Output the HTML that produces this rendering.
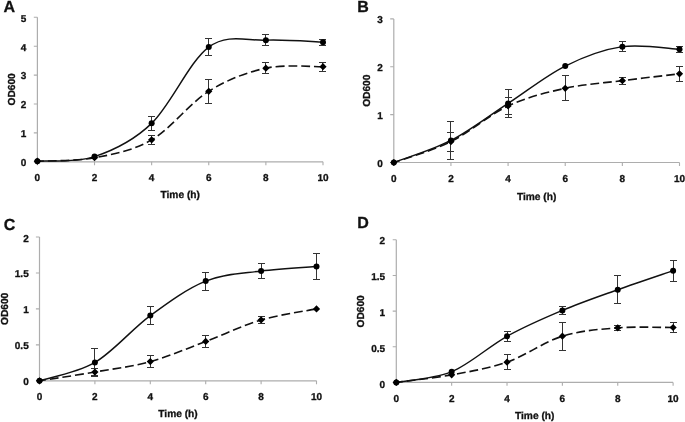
<!DOCTYPE html>
<html><head><meta charset="utf-8"><title>Growth curves</title>
<style>
html,body{margin:0;padding:0;background:#fff;}
body{width:685px;height:422px;overflow:hidden;will-change:transform;}
svg{display:block;}
text{text-rendering:geometricPrecision;-webkit-font-smoothing:antialiased;font-family:"Liberation Sans", sans-serif;font-weight:bold;fill:#111;stroke:#111;stroke-width:0.3px;}
.pl{font-size:16px;}
.tl{font-size:10px;}
.at{font-size:10.2px;}
.ax{fill:none;stroke:#adadad;stroke-width:1.2;}
.tk{fill:none;stroke:#adadad;stroke-width:1.1;}
.eb{fill:none;stroke:#333;stroke-width:1;}
.sl{fill:none;stroke:#111;stroke-width:1.45;}
.ds{fill:none;stroke:#111;stroke-width:1.6;stroke-dasharray:8.8 3.9;stroke-dashoffset:2.2;}
.mk{fill:#000;stroke:none;}
</style></head>
<body>
<svg width="685" height="422" viewBox="0 0 685 422">
<rect width="685" height="422" fill="#fff"/>
<text x="3.6" y="12" class="pl">A</text>
<path class="ax" d="M37.4,17.3 V161.8 H323"/>
<text class="tl" text-anchor="end" transform="translate(26.2,166.3) scale(1.001,1.001)">0</text>
<text class="tl" text-anchor="end" transform="translate(26.2,137.36) scale(1.001,1.001)">1</text>
<text class="tl" text-anchor="end" transform="translate(26.2,108.42) scale(1.001,1.001)">2</text>
<text class="tl" text-anchor="end" transform="translate(26.2,79.48) scale(1.001,1.001)">3</text>
<text class="tl" text-anchor="end" transform="translate(26.2,50.54) scale(1.001,1.001)">4</text>
<text class="tl" text-anchor="end" transform="translate(26.2,21.6) scale(1.001,1.001)">5</text>
<text class="tl" text-anchor="middle" transform="translate(37.4,181.1) scale(1.001,1.001)">0</text>
<text class="tl" text-anchor="middle" transform="translate(94.52,181.1) scale(1.001,1.001)">2</text>
<text class="tl" text-anchor="middle" transform="translate(151.64,181.1) scale(1.001,1.001)">4</text>
<text class="tl" text-anchor="middle" transform="translate(208.76,181.1) scale(1.001,1.001)">6</text>
<text class="tl" text-anchor="middle" transform="translate(265.88,181.1) scale(1.001,1.001)">8</text>
<text class="tl" text-anchor="middle" transform="translate(323,181.1) scale(1.001,1.001)">10</text>
<path class="tk" d="M33.8,161.8 H37.4 M33.8,132.9 H37.4 M33.8,104 H37.4 M33.8,75.1 H37.4 M33.8,46.2 H37.4 M33.8,17.3 H37.4 M37.4,161.8 V165.2 M94.52,161.8 V165.2 M151.64,161.8 V165.2 M208.76,161.8 V165.2 M265.88,161.8 V165.2 M323,161.8 V165.2"/>
<text x="180.2" y="198.2" class="at" text-anchor="middle">Time (h)</text>
<text class="at" text-anchor="middle" transform="translate(14.5,89.4) rotate(-90)">OD600</text>
<path class="eb" d="M151.5,116.5 V130.5 M148,116.5 h7 M148,130.5 h7 M208.5,38.5 V55.5 M205,38.5 h7 M205,55.5 h7 M265.5,34.5 V45.5 M262,34.5 h7 M262,45.5 h7 M322.5,39.5 V45.5 M319,39.5 h7 M319,45.5 h7 M151.5,135.5 V144.5 M148,135.5 h7 M148,144.5 h7 M208.5,79.5 V103.5 M205,79.5 h7 M205,103.5 h7 M265.5,62.5 V73.5 M262,62.5 h7 M262,73.5 h7 M322.5,62.5 V71.5 M319,62.5 h7 M319,71.5 h7"/>
<path class="ds" d="M37.4,161.22 C46.92,160.64 75.48,161.32 94.52,157.75 C113.56,154.19 132.6,150.91 151.64,139.84 C170.68,128.76 189.72,103.23 208.76,91.28 C227.8,79.34 246.84,72.26 265.88,68.16 C284.92,64.07 313.48,66.96 323,66.72"/>
<path class="sl" d="M37.4,161.22 C46.92,160.45 75.48,162.91 94.52,156.6 C113.56,150.29 132.6,141.62 151.64,123.36 C170.68,105.11 189.72,60.94 208.76,47.07 C227.8,33.2 246.84,40.95 265.88,40.13 C284.92,39.31 313.48,41.82 323,42.15"/>
<path class="mk" d="M37.4,157.62 l3.6,3.6 l-3.6,3.6 l-3.6,-3.6z M94.52,154.15 l3.6,3.6 l-3.6,3.6 l-3.6,-3.6z M151.64,136.24 l3.6,3.6 l-3.6,3.6 l-3.6,-3.6z M208.76,87.68 l3.6,3.6 l-3.6,3.6 l-3.6,-3.6z M265.88,64.56 l3.6,3.6 l-3.6,3.6 l-3.6,-3.6z M323,63.12 l3.6,3.6 l-3.6,3.6 l-3.6,-3.6z"/>
<circle cx="37.4" cy="161.22" r="3.0" class="mk"/>
<circle cx="94.52" cy="156.6" r="3.0" class="mk"/>
<circle cx="151.64" cy="123.36" r="3.0" class="mk"/>
<circle cx="208.76" cy="47.07" r="3.0" class="mk"/>
<circle cx="265.88" cy="40.13" r="3.0" class="mk"/>
<circle cx="323" cy="42.15" r="3.0" class="mk"/>
<text x="357.2" y="12.2" class="pl">B</text>
<path class="ax" d="M393.8,18.89 V162.5 H679.5"/>
<text class="tl" text-anchor="end" transform="translate(382.8,167.4) scale(1.001,1.001)">0</text>
<text class="tl" text-anchor="end" transform="translate(382.8,119.37) scale(1.001,1.001)">1</text>
<text class="tl" text-anchor="end" transform="translate(382.8,71.34) scale(1.001,1.001)">2</text>
<text class="tl" text-anchor="end" transform="translate(382.8,23.31) scale(1.001,1.001)">3</text>
<text class="tl" text-anchor="middle" transform="translate(393.8,181.8) scale(1.001,1.001)">0</text>
<text class="tl" text-anchor="middle" transform="translate(450.94,181.8) scale(1.001,1.001)">2</text>
<text class="tl" text-anchor="middle" transform="translate(508.08,181.8) scale(1.001,1.001)">4</text>
<text class="tl" text-anchor="middle" transform="translate(565.22,181.8) scale(1.001,1.001)">6</text>
<text class="tl" text-anchor="middle" transform="translate(622.36,181.8) scale(1.001,1.001)">8</text>
<text class="tl" text-anchor="middle" transform="translate(679.5,181.8) scale(1.001,1.001)">10</text>
<path class="tk" d="M390.2,162.5 H393.8 M390.2,114.63 H393.8 M390.2,66.76 H393.8 M390.2,18.89 H393.8 M393.8,162.5 V165.9 M450.94,162.5 V165.9 M508.08,162.5 V165.9 M565.22,162.5 V165.9 M622.36,162.5 V165.9 M679.5,162.5 V165.9"/>
<text x="536.65" y="199.5" class="at" text-anchor="middle">Time (h)</text>
<text class="at" text-anchor="middle" transform="translate(370.1,90.7) rotate(-90)">OD600</text>
<path class="eb" d="M450.5,121.5 V159.5 M447,121.5 h7 M447,159.5 h7 M508.5,89.5 V117.5 M505,89.5 h7 M505,117.5 h7 M622.5,41.5 V51.5 M619,41.5 h7 M619,51.5 h7 M679.5,46.5 V52.5 M676,46.5 h7 M676,52.5 h7 M450.5,132.5 V151.5 M447,132.5 h7 M447,151.5 h7 M508.5,97.5 V114.5 M505,97.5 h7 M505,114.5 h7 M565.5,75.5 V100.5 M562,75.5 h7 M562,100.5 h7 M622.5,77.5 V84.5 M619,77.5 h7 M619,84.5 h7 M679.5,66.5 V81.5 M676,66.5 h7 M676,81.5 h7"/>
<path class="ds" d="M393.8,162.5 C403.32,159.01 431.89,151 450.94,141.58 C469.99,132.17 489.03,114.89 508.08,106.01 C527.13,97.13 546.17,92.53 565.22,88.3 C584.27,84.07 603.31,83.06 622.36,80.64 C641.41,78.22 669.98,74.94 679.5,73.8"/>
<path class="sl" d="M393.8,162.5 C403.32,158.83 431.89,150.33 450.94,140.48 C469.99,130.63 489.03,115.79 508.08,103.38 C527.13,90.97 546.17,75.5 565.22,66.04 C584.27,56.59 603.31,49.45 622.36,46.65 C641.41,43.86 669.98,48.85 679.5,49.29"/>
<path class="mk" d="M393.8,158.9 l3.6,3.6 l-3.6,3.6 l-3.6,-3.6z M450.94,137.98 l3.6,3.6 l-3.6,3.6 l-3.6,-3.6z M508.08,102.41 l3.6,3.6 l-3.6,3.6 l-3.6,-3.6z M565.22,84.7 l3.6,3.6 l-3.6,3.6 l-3.6,-3.6z M622.36,77.04 l3.6,3.6 l-3.6,3.6 l-3.6,-3.6z M679.5,70.2 l3.6,3.6 l-3.6,3.6 l-3.6,-3.6z"/>
<circle cx="393.8" cy="162.5" r="3.0" class="mk"/>
<circle cx="450.94" cy="140.48" r="3.0" class="mk"/>
<circle cx="508.08" cy="103.38" r="3.0" class="mk"/>
<circle cx="565.22" cy="66.04" r="3.0" class="mk"/>
<circle cx="622.36" cy="46.65" r="3.0" class="mk"/>
<circle cx="679.5" cy="49.29" r="3.0" class="mk"/>
<text x="3.8" y="229.8" class="pl">C</text>
<path class="ax" d="M39.5,237 V380.8 H316.5"/>
<text class="tl" text-anchor="end" transform="translate(28.7,385.3) scale(1.001,1.001)">0</text>
<text class="tl" text-anchor="end" transform="translate(28.7,349.35) scale(1.001,1.001)">0.5</text>
<text class="tl" text-anchor="end" transform="translate(28.7,313.4) scale(1.001,1.001)">1</text>
<text class="tl" text-anchor="end" transform="translate(28.7,277.45) scale(1.001,1.001)">1.5</text>
<text class="tl" text-anchor="end" transform="translate(28.7,241.5) scale(1.001,1.001)">2</text>
<text class="tl" text-anchor="middle" transform="translate(39.5,400.1) scale(1.001,1.001)">0</text>
<text class="tl" text-anchor="middle" transform="translate(94.9,400.1) scale(1.001,1.001)">2</text>
<text class="tl" text-anchor="middle" transform="translate(150.3,400.1) scale(1.001,1.001)">4</text>
<text class="tl" text-anchor="middle" transform="translate(205.7,400.1) scale(1.001,1.001)">6</text>
<text class="tl" text-anchor="middle" transform="translate(261.1,400.1) scale(1.001,1.001)">8</text>
<text class="tl" text-anchor="middle" transform="translate(316.5,400.1) scale(1.001,1.001)">10</text>
<path class="tk" d="M35.9,380.8 H39.5 M35.9,344.85 H39.5 M35.9,308.9 H39.5 M35.9,272.95 H39.5 M35.9,237 H39.5 M39.5,380.8 V384.2 M94.9,380.8 V384.2 M150.3,380.8 V384.2 M205.7,380.8 V384.2 M261.1,380.8 V384.2 M316.5,380.8 V384.2"/>
<text x="178" y="417.2" class="at" text-anchor="middle">Time (h)</text>
<text class="at" text-anchor="middle" transform="translate(7.5,308.9) rotate(-90)">OD600</text>
<path class="eb" d="M94.5,348.5 V376.5 M91,348.5 h7 M91,376.5 h7 M150.5,306.5 V324.5 M147,306.5 h7 M147,324.5 h7 M205.5,272.5 V290.5 M202,272.5 h7 M202,290.5 h7 M261.5,263.5 V278.5 M258,263.5 h7 M258,278.5 h7 M316.5,253.5 V279.5 M313,253.5 h7 M313,279.5 h7 M94.5,368.5 V375.5 M91,368.5 h7 M91,375.5 h7 M150.5,355.5 V367.5 M147,355.5 h7 M147,367.5 h7 M205.5,335.5 V347.5 M202,335.5 h7 M202,347.5 h7 M261.5,316.5 V323.5 M258,316.5 h7 M258,323.5 h7"/>
<path class="ds" d="M39.5,380.8 C48.73,379.34 76.43,375.23 94.9,372.03 C113.37,368.83 131.83,366.7 150.3,361.6 C168.77,356.51 187.23,348.41 205.7,341.47 C224.17,334.53 242.63,325.4 261.1,319.97 C279.57,314.54 307.27,310.75 316.5,308.9"/>
<path class="sl" d="M39.5,380.8 C48.73,377.74 76.43,373.33 94.9,362.47 C113.37,351.6 131.83,329.15 150.3,315.59 C168.77,302.02 187.23,288.5 205.7,281.07 C224.17,273.65 242.63,273.44 261.1,271.01 C279.57,268.58 307.27,267.23 316.5,266.48"/>
<path class="mk" d="M39.5,377.2 l3.6,3.6 l-3.6,3.6 l-3.6,-3.6z M94.9,368.43 l3.6,3.6 l-3.6,3.6 l-3.6,-3.6z M150.3,358 l3.6,3.6 l-3.6,3.6 l-3.6,-3.6z M205.7,337.87 l3.6,3.6 l-3.6,3.6 l-3.6,-3.6z M261.1,316.37 l3.6,3.6 l-3.6,3.6 l-3.6,-3.6z M316.5,305.3 l3.6,3.6 l-3.6,3.6 l-3.6,-3.6z"/>
<circle cx="39.5" cy="380.8" r="3.0" class="mk"/>
<circle cx="94.9" cy="362.47" r="3.0" class="mk"/>
<circle cx="150.3" cy="315.59" r="3.0" class="mk"/>
<circle cx="205.7" cy="281.07" r="3.0" class="mk"/>
<circle cx="261.1" cy="271.01" r="3.0" class="mk"/>
<circle cx="316.5" cy="266.48" r="3.0" class="mk"/>
<text x="357.2" y="227.9" class="pl">D</text>
<path class="ax" d="M396.3,239.8 V382.4 H673.1"/>
<text class="tl" text-anchor="end" transform="translate(385.1,387.8) scale(1.001,1.001)">0</text>
<text class="tl" text-anchor="end" transform="translate(385.1,351.77) scale(1.001,1.001)">0.5</text>
<text class="tl" text-anchor="end" transform="translate(385.1,315.75) scale(1.001,1.001)">1</text>
<text class="tl" text-anchor="end" transform="translate(385.1,279.72) scale(1.001,1.001)">1.5</text>
<text class="tl" text-anchor="end" transform="translate(385.1,243.7) scale(1.001,1.001)">2</text>
<text class="tl" text-anchor="middle" transform="translate(396.3,401.7) scale(1.001,1.001)">0</text>
<text class="tl" text-anchor="middle" transform="translate(451.66,401.7) scale(1.001,1.001)">2</text>
<text class="tl" text-anchor="middle" transform="translate(507.02,401.7) scale(1.001,1.001)">4</text>
<text class="tl" text-anchor="middle" transform="translate(562.38,401.7) scale(1.001,1.001)">6</text>
<text class="tl" text-anchor="middle" transform="translate(617.74,401.7) scale(1.001,1.001)">8</text>
<text class="tl" text-anchor="middle" transform="translate(673.1,401.7) scale(1.001,1.001)">10</text>
<path class="tk" d="M392.7,382.4 H396.3 M392.7,346.75 H396.3 M392.7,311.1 H396.3 M392.7,275.45 H396.3 M392.7,239.8 H396.3 M396.3,382.4 V385.8 M451.66,382.4 V385.8 M507.02,382.4 V385.8 M562.38,382.4 V385.8 M617.74,382.4 V385.8 M673.1,382.4 V385.8"/>
<text x="534.7" y="419" class="at" text-anchor="middle">Time (h)</text>
<text class="at" text-anchor="middle" transform="translate(364.4,311.4) rotate(-90)">OD600</text>
<path class="eb" d="M507.5,331.5 V341.5 M504,331.5 h7 M504,341.5 h7 M562.5,306.5 V314.5 M559,306.5 h7 M559,314.5 h7 M617.5,275.5 V303.5 M614,275.5 h7 M614,303.5 h7 M673.5,260.5 V281.5 M670,260.5 h7 M670,281.5 h7 M507.5,354.5 V369.5 M504,354.5 h7 M504,369.5 h7 M562.5,322.5 V350.5 M559,322.5 h7 M559,350.5 h7 M617.5,325.5 V330.5 M614,325.5 h7 M614,330.5 h7 M673.5,322.5 V332.5 M670,322.5 h7 M670,332.5 h7"/>
<path class="ds" d="M396.3,382.4 C405.53,381.14 433.21,378.22 451.66,374.84 C470.11,371.47 488.57,368.59 507.02,362.15 C525.47,355.71 543.93,341.91 562.38,336.2 C580.83,330.48 599.29,329.31 617.74,327.86 C636.19,326.41 663.87,327.56 673.1,327.5"/>
<path class="sl" d="M396.3,382.4 C405.53,380.62 433.21,379.39 451.66,371.7 C470.11,364.02 488.57,346.49 507.02,336.27 C525.47,326.05 543.93,318.15 562.38,310.39 C580.83,302.63 599.29,296.33 617.74,289.71 C636.19,283.09 663.87,273.85 673.1,270.67"/>
<path class="mk" d="M396.3,378.8 l3.6,3.6 l-3.6,3.6 l-3.6,-3.6z M451.66,371.24 l3.6,3.6 l-3.6,3.6 l-3.6,-3.6z M507.02,358.55 l3.6,3.6 l-3.6,3.6 l-3.6,-3.6z M562.38,332.6 l3.6,3.6 l-3.6,3.6 l-3.6,-3.6z M617.74,324.26 l3.6,3.6 l-3.6,3.6 l-3.6,-3.6z M673.1,323.9 l3.6,3.6 l-3.6,3.6 l-3.6,-3.6z"/>
<circle cx="396.3" cy="382.4" r="3.0" class="mk"/>
<circle cx="451.66" cy="371.7" r="3.0" class="mk"/>
<circle cx="507.02" cy="336.27" r="3.0" class="mk"/>
<circle cx="562.38" cy="310.39" r="3.0" class="mk"/>
<circle cx="617.74" cy="289.71" r="3.0" class="mk"/>
<circle cx="673.1" cy="270.67" r="3.0" class="mk"/>
</svg>
</body></html>
